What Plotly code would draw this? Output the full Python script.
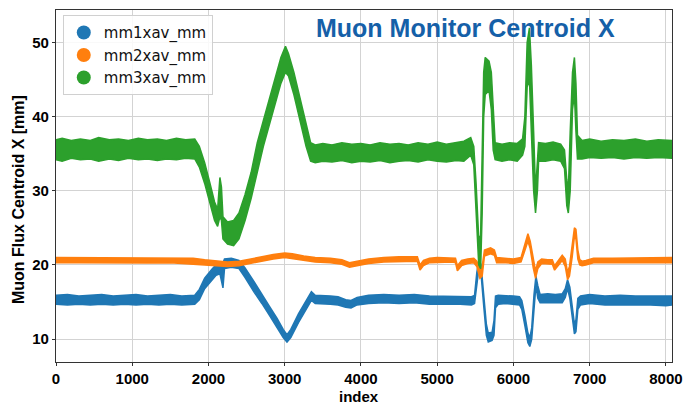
import plotly.graph_objects as go

# ---- data (index knots with lower / upper edge of each noisy band) ----
mm1_x = [0, 150, 300, 450, 600, 750, 900, 1050, 1200, 1350, 1500, 1650, 1820, 1880, 1950, 2050, 2100,
         2150, 2190, 2210, 2300, 2400, 2480, 2600, 2700, 2800, 2900, 2980, 3030, 3080, 3180, 3280, 3350,
         3400, 3500, 3600, 3700, 3800, 3870, 3950, 4100, 4300, 4500, 4700, 4900, 5100, 5300, 5450, 5490,
         5520, 5550, 5575, 5610, 5645, 5670, 5720, 5745, 5765, 5800, 5900, 6000, 6080, 6110, 6150, 6190,
         6215, 6240, 6270, 6295, 6320, 6350, 6450, 6550, 6640, 6680, 6710, 6740, 6770, 6800, 6820, 6845,
         6880, 7000, 7200, 7400, 7600, 7800, 8000, 8080]
mm1_lo = [14.7, 14.6, 14.7, 14.6, 14.7, 14.6, 14.7, 14.6, 14.7, 14.6, 14.7, 14.6, 14.7, 15.3, 16.8, 18.0, 18.6,
          18.8, 16.9, 19.5, 19.7, 19.5, 18.3, 16.3, 14.8, 13.2, 11.6, 10.2, 9.6, 10.2, 12.2, 14.0, 15.2,
          14.8, 14.8, 14.7, 14.6, 14.3, 14.2, 14.6, 14.8, 14.9, 14.8, 14.9, 14.7, 14.7, 14.7, 14.6, 14.8,
          17.5, 19.8, 18.8, 14.5, 10.5, 9.6, 9.8, 10.5, 14.2, 14.7, 14.8, 14.7, 14.6, 14.0, 11.8, 9.5,
          9.0, 10.0, 14.0, 17.2, 15.5, 14.9, 14.9, 14.9, 14.9, 15.6, 16.8, 15.5, 13.0, 10.7, 11.0, 14.0,
          14.6, 14.8, 14.6, 14.7, 14.6, 14.6, 14.5, 14.6]
mm1_hi = [15.9, 16.0, 15.8, 15.9, 16.0, 15.8, 15.9, 16.0, 15.8, 15.9, 16.0, 15.8, 15.9, 16.7, 18.2, 19.5, 20.0,
          20.2, 20.3, 20.8, 20.9, 20.6, 19.6, 17.7, 16.0, 14.4, 12.8, 11.3, 10.6, 11.3, 13.4, 15.2, 16.4,
          15.9, 15.9, 15.8, 15.7, 15.3, 15.2, 15.6, 15.9, 16.0, 15.9, 16.0, 15.8, 15.8, 15.8, 15.7, 15.9,
          19.0, 20.8, 20.0, 16.0, 12.0, 10.8, 10.9, 12.5, 15.8, 15.9, 15.9, 15.8, 15.7, 15.2, 13.2, 10.8,
          10.2, 11.5, 16.0, 18.5, 17.2, 16.0, 16.1, 16.0, 16.1, 16.8, 18.0, 17.0, 14.5, 12.0, 12.6, 15.5,
          15.8, 16.0, 15.8, 15.9, 15.8, 15.8, 15.7, 15.8]

mm2_x = [0, 300, 600, 900, 1200, 1500, 1800, 1950, 2100, 2250, 2400, 2550, 2700, 2850, 3000, 3100, 3250,
         3400, 3600, 3750, 3850, 3950, 4100, 4300, 4500, 4740, 4775, 4820, 4900, 5000, 5200, 5240, 5265,
         5320, 5400, 5480, 5520, 5560, 5590, 5620, 5700, 5750, 5780, 5900, 6000, 6100, 6150, 6190, 6220,
         6260, 6290, 6320, 6370, 6450, 6510, 6540, 6580, 6640, 6680, 6710, 6735, 6770, 6800, 6820, 6845,
         6870, 6900, 6950, 7050, 7300, 7600, 7900, 8080]
mm2_lo = [20.3, 20.3, 20.3, 20.3, 20.25, 20.3, 20.2, 20.0, 19.9, 19.8, 19.9, 20.2, 20.5, 20.8, 21.0, 20.9, 20.6,
          20.4, 20.3, 20.1, 19.7, 19.9, 20.2, 20.4, 20.5, 20.5, 19.3, 19.9, 20.3, 20.4, 20.4, 20.3, 19.2,
          19.9, 20.2, 20.3, 19.8, 18.2, 18.5, 21.2, 21.5, 21.3, 20.3, 20.3, 20.2, 20.4, 21.8, 23.2, 22.2,
          19.6, 18.2, 19.5, 20.2, 20.1, 20.1, 19.3, 19.8, 20.6, 19.8, 18.0, 18.5, 21.0, 23.8, 23.5, 20.8,
          20.0, 19.9, 20.0, 20.3, 20.3, 20.3, 20.3, 20.3]
mm2_hi = [21.0, 21.0, 20.95, 21.0, 20.95, 21.0, 20.9, 20.7, 20.5, 20.4, 20.5, 20.8, 21.1, 21.4, 21.6, 21.5, 21.2,
          21.0, 20.9, 20.7, 20.3, 20.5, 20.8, 21.0, 21.1, 21.1, 20.0, 20.6, 20.9, 21.0, 21.0, 20.9, 19.9,
          20.6, 20.8, 20.9, 20.5, 19.3, 19.8, 22.0, 22.3, 22.0, 21.0, 20.9, 20.8, 21.0, 22.8, 24.2, 23.2,
          20.6, 19.2, 20.4, 20.8, 20.7, 20.7, 19.9, 20.5, 21.3, 20.8, 19.0, 19.8, 22.5, 25.0, 24.8, 22.0,
          20.7, 20.5, 20.6, 20.9, 20.9, 20.9, 20.9, 21.0]

mm3_x = [0, 80, 200, 320, 450, 560, 700, 820, 950, 1080, 1200, 1330, 1450, 1580, 1700, 1820, 1880, 1950,
         2020, 2080, 2120, 2150, 2170, 2190, 2250, 2330, 2400, 2480, 2560, 2640, 2720, 2800, 2880, 2950,
         3010, 3050, 3120, 3200, 3280, 3340, 3400, 3500, 3620, 3750, 3880, 4000, 4120, 4250, 4380, 4500,
         4620, 4750, 4880, 5000, 5120, 5250, 5350, 5440, 5480, 5510, 5545, 5570, 5590, 5610, 5630, 5680,
         5710, 5735, 5760, 5850, 5950, 6050, 6120, 6150, 6180, 6210, 6235, 6265, 6290, 6315, 6330, 6420,
         6520, 6620, 6670, 6700, 6720, 6745, 6775, 6800, 6820, 6840, 6900, 7000, 7150, 7300, 7450, 7600,
         7750, 7900, 8080]
mm3_lo = [34.2, 34.0, 34.4, 34.2, 34.3, 34.0, 34.3, 34.1, 34.4, 34.2, 34.3, 34.1, 34.3, 34.2, 34.4, 34.3, 33.2, 31.0,
          28.5, 26.0, 25.2, 26.5, 26.0, 23.5, 22.8, 22.6, 23.5, 26.0, 29.0, 32.5, 36.0, 39.0, 42.0, 44.5,
          46.0, 45.5, 43.0, 39.5, 36.0, 34.0, 33.8, 34.0, 33.9, 34.1, 33.8, 34.0, 33.9, 34.1, 33.8, 34.0,
          34.1, 33.9, 34.2, 34.0, 33.9, 34.1, 34.0, 34.8, 33.5, 28.0, 20.0, 19.5, 27.0, 40.0, 43.0, 43.5,
          41.0, 35.5, 34.2, 34.0, 34.2, 34.0, 34.8, 36.0, 44.0, 45.0, 38.0, 30.0, 27.0, 30.0, 34.0, 34.0,
          34.2, 34.0, 33.0, 28.0, 27.0, 30.0, 41.0, 43.0, 38.0, 34.3, 34.3, 34.5, 34.4, 34.5, 34.3, 34.5,
          34.4, 34.5, 34.4]
mm3_hi = [36.9, 37.1, 36.8, 37.0, 36.8, 37.2, 36.9, 37.0, 36.8, 37.1, 36.9, 37.0, 36.8, 37.1, 36.9, 37.0, 36.0, 33.8,
          31.0, 28.5, 27.5, 31.8, 30.5, 26.5, 25.8, 26.0, 27.0, 29.5, 32.5, 36.5, 39.5, 42.5, 45.5, 48.0,
          49.5, 48.5, 46.0, 42.5, 39.0, 36.5, 36.2, 36.4, 36.2, 36.5, 36.3, 36.4, 36.2, 36.5, 36.3, 36.4,
          36.2, 36.5, 36.3, 36.6, 36.3, 36.5, 36.7, 37.2, 36.0, 31.0, 23.5, 24.0, 35.0, 46.0, 48.0, 47.5,
          46.0, 42.0, 36.5, 36.3, 36.5, 36.4, 37.0, 40.0, 50.0, 52.0, 47.0, 38.0, 30.0, 34.0, 36.5, 36.4,
          36.6, 36.3, 35.5, 31.5, 30.0, 38.0, 46.0, 48.0, 44.5, 37.5, 36.8, 37.0, 36.7, 36.9, 36.8, 37.0,
          36.7, 36.9, 36.8]

series_names = ["mm1xav_mm", "mm2xav_mm", "mm3xav_mm"]
series_colors = ["#1f77b4", "#ff7f0e", "#2ca02c"]
x_ticks = [0, 1000, 2000, 3000, 4000, 5000, 6000, 7000, 8000]
y_ticks = [10, 20, 30, 40, 50]

fig = go.Figure()

for xs, lo, hi, color in [(mm1_x, mm1_lo, mm1_hi, series_colors[0]),
                          (mm2_x, mm2_lo, mm2_hi, series_colors[1]),
                          (mm3_x, mm3_lo, mm3_hi, series_colors[2])]:
    fig.add_trace(go.Scatter(
        x=xs + xs[::-1], y=hi + lo[::-1],
        mode="lines", fill="toself", fillcolor=color,
        line=dict(color=color, width=1.5),
        showlegend=False, hoverinfo="skip"))

for i, (name, color) in enumerate(zip(series_names, series_colors)):
    fig.add_trace(go.Scatter(
        x=[None], y=[None], mode="markers", name=name,
        legendgroup=f"g{i}",
        marker=dict(size=14, color=color)))

axis_font = dict(family="Liberation Sans", size=15, color="black", weight="bold")
title_font = dict(family="Liberation Sans", size=16, color="black")

fig.update_layout(
    width=685, height=404,
    margin=dict(l=56, r=13, t=10, b=42, autoexpand=False),
    paper_bgcolor="white", plot_bgcolor="white",
    showlegend=True,
    legend=dict(x=0.011, y=0.985, xanchor="left", yanchor="top",
                bgcolor="rgba(255,255,255,0.85)", bordercolor="#d0d0d0", borderwidth=1,
                font=dict(family="DejaVu Sans", size=15, color="#111"),
                tracegroupgap=0, itemsizing="trace"),
    xaxis=dict(range=[0, 8080], tickvals=x_ticks, tickfont=axis_font, automargin=False,
               showgrid=True, gridcolor="#d3d3d3", gridwidth=1, zeroline=False,
               showline=True, linecolor="#333", linewidth=1.2, mirror=True,
               ticks="outside", ticklen=3, tickcolor="#333"),
    yaxis=dict(range=[6.9, 54.4], tickvals=y_ticks, tickfont=axis_font, automargin=False,
               showgrid=True, gridcolor="#d3d3d3", gridwidth=1, zeroline=False,
               showline=True, linecolor="#333", linewidth=1.2, mirror=True,
               ticks="outside", ticklen=3, tickcolor="#333"),
    annotations=[
        dict(text="<b>Muon Monitor Centroid X</b>", xref="paper", yref="paper",
             x=0.664, y=0.949, xanchor="center", yanchor="middle", showarrow=False,
             font=dict(family="Liberation Sans", size=25, color="#1560a8")),
        dict(text="<b>index</b>", xref="paper", yref="paper",
             x=0.492, y=-0.099, xanchor="center", yanchor="middle", showarrow=False,
             font=dict(family="Liberation Sans", size=15, color="black")),
        dict(text="<b>Muon Flux Centroid X [mm]</b>", xref="paper", yref="paper",
             x=-0.0617, y=0.463, xanchor="center", yanchor="middle", showarrow=False,
             textangle=-90, font=title_font),
    ],
)

fig.write_html("out.html")
